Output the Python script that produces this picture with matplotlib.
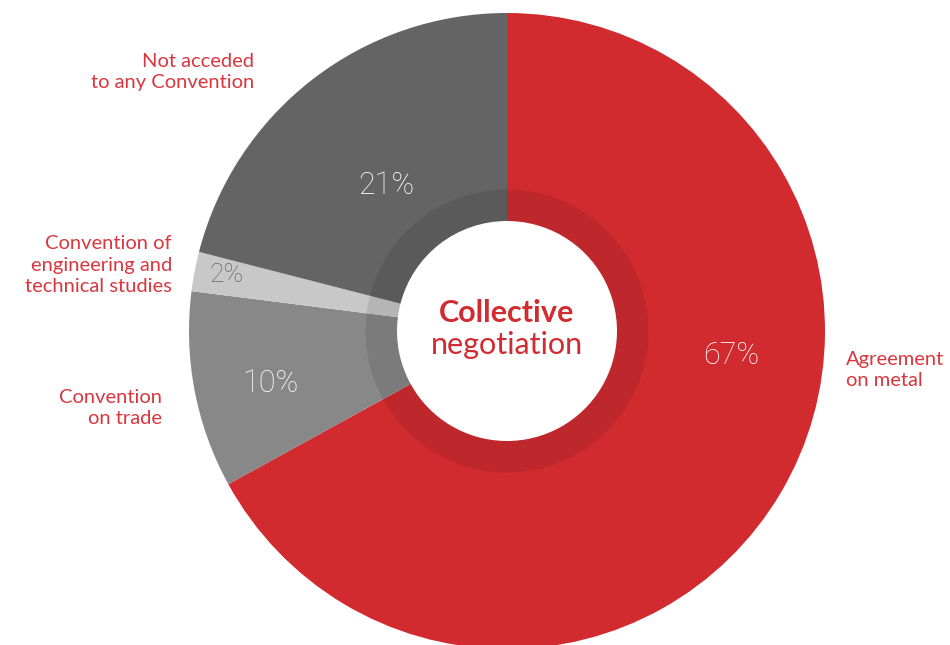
import matplotlib
matplotlib.use("Agg")
import matplotlib.pyplot as plt

categories = ["Agreement\non metal", "Convention\non trade",
              "Convention of\nengineering and\ntechnical studies",
              "Not acceded\nto any Convention"]
values = [67, 10, 2, 21]
colors = ["#D12B30", "#888888", "#C8C8C8", "#646464"]
pct_colors = ["white", "white", "#666666", "white"]

W, H = 950, 645
fig = plt.figure(figsize=(W / 100, H / 100), dpi=100)
ax = fig.add_axes([0, 0, 1, 1])

cx, cy = 507, H - 331
R_out, R_in = 318, 110
R_ring = 141.5

ax.pie(values, colors=colors, startangle=90, counterclock=False,
       center=(cx, cy), radius=R_out, frame=True,
       wedgeprops=dict(width=R_out - R_in, linewidth=0))
# darker inner ring
ax.pie(values, colors=["black"] * len(values), startangle=90, counterclock=False,
       center=(cx, cy), radius=R_ring, frame=True,
       wedgeprops=dict(width=R_ring - R_in, linewidth=0, alpha=0.09))
ax.set_xlim(0, W)
ax.set_ylim(0, H)
ax.set_aspect("equal")
ax.axis("off")

FONT = "Lato"
red = "#D9363E"

# category labels (pixel positions)
lab_pos = [(846, 370, "left"), (162, 408, "right"), (172, 265, "right"), (254, 72, "right")]
for cat, (x, y, ha) in zip(categories, lab_pos):
    ax.text(x, H - y, cat, ha=ha, va="center", color=red, fontsize=14.5,
            family=FONT, fontweight="normal", linespacing=1.35)

# percentage labels
pct_pos = [(731, 355), (270, 384), (227, 275), (386, 185)]
for v, (x, y), c in zip(values, pct_pos, pct_colors):
    ax.text(x, H - y, f"{v}%", ha="center", va="center", color=c,
            fontsize=22 if v >= 10 else 19, family="Roboto", fontweight="light")

ax.text(cx, H - 313, "Collective", ha="center", va="center", color="#D12B30",
        fontsize=22, family=FONT, fontweight="bold")
ax.text(cx, H - 345, "negotiation", ha="center", va="center", color="#D12B30",
        fontsize=22, family=FONT, fontweight="normal")

fig.savefig("out.png", dpi=100)
